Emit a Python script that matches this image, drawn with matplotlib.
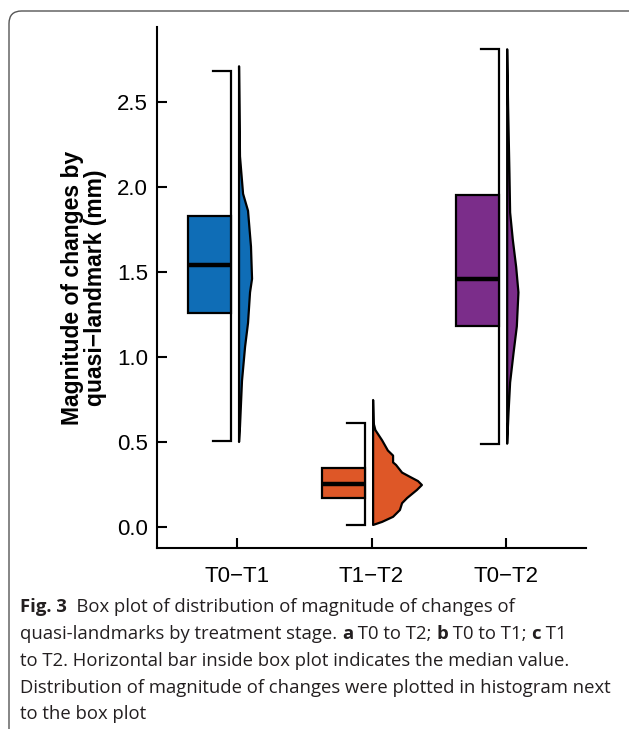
import matplotlib
matplotlib.use("Agg")
import matplotlib.pyplot as plt
from matplotlib.patches import Polygon, FancyBboxPatch

# data
groups = ["T0\u2212T1", "T1\u2212T2", "T0\u2212T2"]
colors = ["#0F6DB6", "#DE5727", "#7B2D8A"]

q1 = [1.26, 0.17, 1.18]
med = [1.54, 0.253, 1.46]
q3 = [1.83, 0.347, 1.95]
whisk_lo = [0.505, 0.01, 0.49]
whisk_hi = [2.68, 0.61, 2.81]

# half-violin outlines: heights (top -> bottom) and half widths
dens_y = [
    [2.71, 2.18, 1.96, 1.86, 1.65, 1.46, 1.38, 1.20, 1.06, 0.86, 0.59, 0.50],
    [0.747, 0.61, 0.57, 0.51, 0.45, 0.42, 0.38, 0.365, 0.32, 0.295, 0.27,
     0.247, 0.218, 0.17, 0.14, 0.10, 0.06, 0.03, 0.012],
    [2.81, 2.47, 2.08, 1.85, 1.69, 1.53, 1.38, 1.18, 1.02, 0.85, 0.67, 0.49],
]
dens_w = [
    [0.0, 0.007, 0.03, 0.067, 0.089, 0.097, 0.082, 0.067, 0.045, 0.022, 0.007, 0.0],
    [0.0, 0.004, 0.017, 0.067, 0.11, 0.149, 0.149, 0.171, 0.216, 0.275, 0.335,
     0.364, 0.327, 0.253, 0.216, 0.2, 0.149, 0.067, 0.0],
    [0.0, 0.007, 0.017, 0.022, 0.042, 0.067, 0.084, 0.072, 0.047, 0.022, 0.01, 0.0],
]

yticks = [0.0, 0.5, 1.0, 1.5, 2.0, 2.5]
ylabel = "Magnitude of changes by\nquasi\u2212landmark (mm)"

caption = [
    [("Fig. 3", "bold"), ("  Box plot of distribution of magnitude of changes of", "normal")],
    [("quasi-landmarks by treatment stage. ", "normal"), ("a", "bold"),
     (" T0 to T2; ", "normal"), ("b", "bold"), (" T0 to T1; ", "normal"),
     ("c", "bold"), (" T1", "normal")],
    [("to T2. Horizontal bar inside box plot indicates the median value.", "normal")],
    [("Distribution of magnitude of changes were plotted in histogram next", "normal")],
    [("to the box plot", "normal")],
]

W, H = 629, 729
fig = plt.figure(figsize=(W / 100, H / 100), dpi=100)
plt.rcParams["font.family"] = "Liberation Sans"

ax = fig.add_axes([157 / W, 1 - 548 / H, (586 - 157) / W, (548 - 27) / H])

lw = 1.6
for i in range(3):
    # whisker bracket
    ax.plot([i - 0.18, i - 0.05, i - 0.05, i - 0.18],
            [whisk_hi[i], whisk_hi[i], whisk_lo[i], whisk_lo[i]],
            color="black", lw=lw, zorder=1, solid_joinstyle="miter")
    # half box
    ax.bar(i - 0.37, q3[i] - q1[i], width=0.32, bottom=q1[i], align="edge",
           color=colors[i], edgecolor="black", linewidth=lw, zorder=2)
    ax.hlines(med[i], i - 0.37, i - 0.05, color="black", lw=3.2, zorder=3)
    # half violin
    base = i + 0.012
    pts = [(base, dens_y[i][0])]
    pts += [(base + w, y) for y, w in zip(dens_y[i], dens_w[i])]
    pts += [(base, dens_y[i][-1])]
    ax.add_patch(Polygon(pts, closed=True, facecolor=colors[i], edgecolor="black",
                         linewidth=lw, joinstyle="round", zorder=2))

ax.set_xlim(-0.6, 2.6)
ax.set_ylim(-0.1235, 2.941)
ax.set_xticks(range(3))
ax.set_xticklabels(groups)
ax.set_yticks(yticks)
ax.set_yticklabels([f"{v:.1f}" for v in yticks])
for s in ["top", "right"]:
    ax.spines[s].set_visible(False)
for s in ["left", "bottom"]:
    ax.spines[s].set_linewidth(1.5)
ax.tick_params(axis="both", direction="in", length=7, width=1.5, labelsize=16,
               colors="black")
ax.tick_params(axis="x", pad=13)
ax.tick_params(axis="y", pad=6.5)

fig.text(84 / W, 1 - 288 / H, ylabel, rotation=90, ha="center", va="center",
         multialignment="center", fontsize=16.5, fontweight="bold", linespacing=1.05)

# frame around figure + caption
frame = FancyBboxPatch((9 / W, -20 / H), (W + 20) / W, (H - 11 + 20) / H,
                       boxstyle="round,pad=0,rounding_size=0.02",
                       transform=fig.transFigure, fill=False, edgecolor="#555555",
                       linewidth=1.0, mutation_aspect=W / H)
fig.patches.append(frame)

# caption with mixed weights
renderer = fig.canvas.get_renderer()
cap_kw = dict(family="Open Sans", fontsize=13.3, color="#231F20", va="baseline")


def advance(seg, weight):
    a = fig.text(0, 0, "X" + seg + "X", fontweight=weight, **cap_kw)
    b = fig.text(0, 0, "XX", fontweight=weight, **cap_kw)
    wd = a.get_window_extent(renderer).width - b.get_window_extent(renderer).width
    a.remove()
    b.remove()
    return wd


baselines = [612, 639, 666, 693, 719]
for line, yb in zip(caption, baselines):
    x = 20.0
    for seg, weight in line:
        fig.text(x / W, 1 - yb / H, seg, fontweight=weight, **cap_kw)
        x += advance(seg, weight)

fig.savefig("out.png", dpi=100)
